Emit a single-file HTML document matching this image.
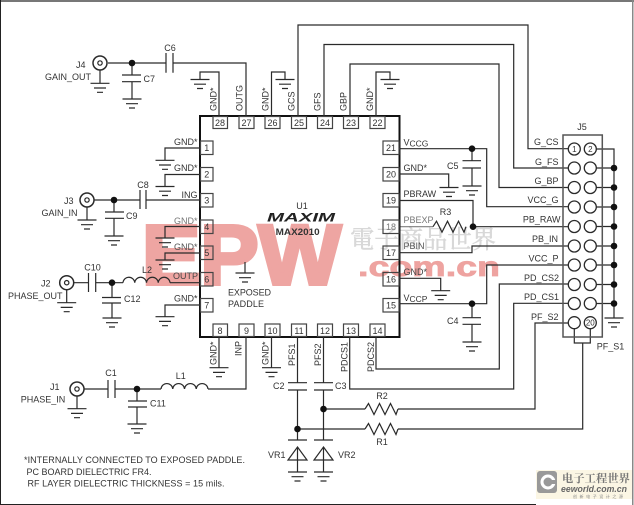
<!DOCTYPE html>
<html><head><meta charset="utf-8"><style>
html,body{margin:0;padding:0;background:#fff}
svg{display:block}
text{font-family:"Liberation Sans",sans-serif;font-size:9px;fill:#333}
.w{fill:none;stroke:#2a2a2a;stroke-width:1.2}
.p{fill:none;stroke:#444;stroke-width:1.2}
.c{fill:#fff;stroke:#2a2a2a;stroke-width:1.3}
.n{text-anchor:middle}
.e{text-anchor:end}
</style></head><body>
<svg width="634" height="505" viewBox="0 0 634 505" xmlns="http://www.w3.org/2000/svg">
<defs>
<g id="g" class="w"><path d="M-9.5 0H9.5M-6 4.7H6M-3 9H3"/></g>
<g id="r" class="w"><path d="M0 0L3.5-5.5 9 5.5 14.5-5.5 20 5.5 25.5-5.5 31 5.5 33 0"/></g>
<path id="l" class="w" d="M0 0a5.9 6 0 0 1 11.75 0a5.9 6 0 0 1 11.75 0a5.9 6 0 0 1 11.75 0a5.9 6 0 0 1 11.75 0"/>
<circle id="d" r="3.3" fill="#111"/>
<g id="j"><circle r="7" fill="#fff" stroke="#2a2a2a" stroke-width="1.5"/><circle r="2.2" fill="#fff" stroke="#2a2a2a" stroke-width="1.2"/></g>
</defs>

<rect width="634" height="505" fill="#fff"/>
<rect x="0" y="0" width="634" height="2" fill="#777"/>
<rect x="0" y="0" width="1" height="505" fill="#222"/>
<rect x="632" y="0" width="1.5" height="505" fill="#888"/>
<rect x="0" y="504" width="536" height="1" fill="#222"/>

<!-- watermark -->
<text x="142" y="284" textLength="199" lengthAdjust="spacingAndGlyphs" style="font-size:84px;font-weight:bold;fill:#eea5a2;stroke:#eea5a2;stroke-width:4">EPW</text>
<text x="350" y="248" textLength="146" lengthAdjust="spacingAndGlyphs" style="font-family:'Liberation Serif','Noto Serif CJK SC',serif;font-size:25px;fill:#d8d8d8;stroke:#d8d8d8;stroke-width:.5">電子商品世界</text>
<text x="358" y="276" textLength="142" lengthAdjust="spacingAndGlyphs" style="font-size:28px;font-weight:bold;fill:#eea3a0;stroke:#eea3a0;stroke-width:.8">.com.cn</text>

<!-- IC -->
<rect x="200" y="116" width="199.5" height="221" fill="none" stroke="#111" stroke-width="2"/>

<!-- wires -->
<path class="w" d="
M108 63H166M173 63H246V116
M219 116V72H200V79
M271.5 116V72H285V80
M298 116V25H528V148.7H568
M324 116V44.5H513.7V168H568
M350 116V64H499V187.5H568
M376 116V72H390V80
M132 63V75M132 81.7V99
M100 70V83
M200 148H165V160
M200 174.5H165V186
M94 200H140M146 200H200
M114 200V212M114 218.3V236
M87 207V220
M200 226.5H165V238
M200 253H165V260
M170 282.7H200
M74 282.7H88.5M96 282.7H123
M112 282.7V297.5M112 303V318
M66.7 290V302.7
M200 305H165V317
M219 337V367.7M271.5 337V367.7
M246 337V389H208
M84 389H108M115 389H161
M137 389V401M137 407V424
M77 396V408.7
M297.5 337V382.7M297.5 390V440M297.5 447V472
M323.5 337V382.7M323.5 390V440M323.5 447V472
M323.5 409H365M398 409H535V323H568
M297.5 429H365M398 429H582.7V343
M399 148.7H486.7V206.7H568
M472 148.7V160.7M472 168V186
M399 174H448.7V187
M399 200.5H473V226.7
M473 226.7H568
M399 252.7H472V246H568
M399 278.3H440.7V290.7
M399 303.7H486.7V265H568
M472 303.7V317.7M472 324.3V342
M349.7 337V389H513.7V303.3H568
M376 337V369H499.3V284H568
M574.3 329V343H590.3V329
M596 149H614V318
M596 168H614M596 187.5H614M596 207H614M596 226.5H614M596 246H614M596 265H614M596 284.5H614M596 303.5H614
"/>
<path class="w" stroke-opacity=".6" d="M399 226.7H433"/>
<!-- capacitor plates -->
<path class="w" stroke-width="1.5" d="
M166 53V72.7M173 53V72.7
M122 75H141M122 81.7H141
M140 190V209M146 190V209
M105 212H124M105 218.3H124
M88.5 273V292M95.7 273V292
M102 297.5H121M102 303H121
M108 380V398M115 380V398
M128 401H147M128 407H147
M288 382.7H307M288 390H307
M314 382.7H333M314 390H333
M462.5 160.7H481M462.5 168H481
M462.5 317.7H481M462.5 324.3H481
"/>
<!-- inductors / resistors -->
<use href="#l" x="123" y="282.7"/>
<use href="#l" x="161" y="389"/>
<use href="#r" x="365" y="409"/>
<use href="#r" x="365" y="429"/>
<use href="#r" x="433" y="226.7"/>
<!-- zeners -->
<path class="w" stroke-width="1.4" d="M288 440H307M297.5 447L307 460H288ZM314 440H333M323.5 447L333 460H314Z"/>
<!-- grounds -->
<use href="#g" x="100" y="83.3"/><use href="#g" x="132" y="99"/><use href="#g" x="200" y="79.5"/>
<use href="#g" x="285" y="79.5"/><use href="#g" x="390" y="79.5"/>
<use href="#g" x="165" y="160.3"/><use href="#g" x="165" y="186.5"/><use href="#g" x="165" y="238"/><use href="#g" x="165" y="260"/><use href="#g" x="165" y="316.7"/>
<use href="#g" x="87" y="220"/><use href="#g" x="114" y="236"/>
<use href="#g" x="66.7" y="302.7"/><use href="#g" x="112" y="318"/>
<use href="#g" x="77" y="408.7"/><use href="#g" x="137" y="424"/>
<use href="#g" x="219" y="367.7"/><use href="#g" x="271.5" y="367.7"/>
<use href="#g" x="297.5" y="472"/><use href="#g" x="323.5" y="472"/>
<use href="#g" x="245" y="273"/><path class="w" d="M245 262V273"/>
<use href="#g" x="449" y="187.5"/><use href="#g" x="472" y="186"/><use href="#g" x="440.7" y="290.7"/><use href="#g" x="472" y="342"/>
<use href="#g" x="614" y="318"/>
<!-- dots -->
<use href="#d" x="132" y="63"/><use href="#d" x="114" y="200"/><use href="#d" x="112" y="282.7"/><use href="#d" x="137" y="389"/>
<use href="#d" x="297.5" y="429"/><use href="#d" x="323.5" y="409"/>
<use href="#d" x="472" y="148.7"/><use href="#d" x="472" y="303.7"/><use href="#d" x="473" y="226.7"/>
<use href="#d" x="614" y="168"/><use href="#d" x="614" y="187.5"/><use href="#d" x="614" y="207"/><use href="#d" x="614" y="226.5"/><use href="#d" x="614" y="246"/><use href="#d" x="614" y="265"/><use href="#d" x="614" y="284.5"/><use href="#d" x="614" y="303.5"/>
<!-- connectors -->
<use href="#j" x="100" y="63"/><use href="#j" x="87" y="200"/><use href="#j" x="66.7" y="282.7"/><use href="#j" x="77" y="389"/>

<!-- pin boxes -->
<g class="p">
<rect x="213" y="116.5" width="14.5" height="12"/><rect x="239" y="116.5" width="15" height="12"/><rect x="265" y="116.5" width="15" height="12"/><rect x="291.5" y="116.5" width="15" height="12"/><rect x="317.5" y="116.5" width="15" height="12"/><rect x="343.5" y="116.5" width="15" height="12"/><rect x="370" y="116.5" width="15" height="12"/>
<rect x="213" y="324" width="14.5" height="12.5"/><rect x="239" y="324" width="15" height="12.5"/><rect x="265" y="324" width="15" height="12.5"/><rect x="291.5" y="324" width="15" height="12.5"/><rect x="317.5" y="324" width="15" height="12.5"/><rect x="343.5" y="324" width="15" height="12.5"/><rect x="370" y="324" width="15" height="12.5"/>
<rect x="200.5" y="141" width="12.5" height="13.5"/><rect x="200.5" y="167.5" width="12.5" height="13.5"/><rect x="200.5" y="193.5" width="12.5" height="13.5"/><rect x="200.5" y="220" width="12.5" height="13.5"/><rect x="200.5" y="246" width="12.5" height="13.5"/><rect x="200.5" y="272.5" width="12.5" height="13.5"/><rect x="200.5" y="298.5" width="12.5" height="13.5"/>
<rect x="383" y="141" width="16" height="13.5"/><rect x="383" y="167.5" width="16" height="13.5"/><rect x="383" y="193.5" width="16" height="13.5"/><rect x="383" y="220" width="16" height="13.5"/><rect x="383" y="246" width="16" height="13.5"/><rect x="383" y="272.5" width="16" height="13.5"/><rect x="383" y="298.5" width="16" height="13.5"/>
</g>

<!-- J5 -->
<rect x="563" y="135" width="39.3" height="202" fill="none" stroke="#555" stroke-width="1.5"/>
<g class="c">
<circle cx="574.3" cy="149" r="6"/><circle cx="590.3" cy="149" r="6"/>
<circle cx="574.3" cy="168" r="6"/><circle cx="590.3" cy="168" r="6"/>
<circle cx="574.3" cy="187.5" r="6"/><circle cx="590.3" cy="187.5" r="6"/>
<circle cx="574.3" cy="207" r="6"/><circle cx="590.3" cy="207" r="6"/>
<circle cx="574.3" cy="226.5" r="6"/><circle cx="590.3" cy="226.5" r="6"/>
<circle cx="574.3" cy="246" r="6"/><circle cx="590.3" cy="246" r="6"/>
<circle cx="574.3" cy="265" r="6"/><circle cx="590.3" cy="265" r="6"/>
<circle cx="574.3" cy="284.5" r="6"/><circle cx="590.3" cy="284.5" r="6"/>
<circle cx="574.3" cy="303.5" r="6"/><circle cx="590.3" cy="303.5" r="6"/>
<circle cx="574.3" cy="322.7" r="6"/><circle cx="590.3" cy="322.7" r="6"/>
</g>
<text class="n" x="574.3" y="152" style="font-size:8px">1</text>
<text class="n" x="590.3" y="152" style="font-size:8px">2</text>
<text class="n" x="590.3" y="325.5" style="font-size:8px">20</text>

<!-- pin numbers -->
<g>
<text class="n" x="220" y="126">28</text><text class="n" x="246.5" y="126">27</text><text class="n" x="272.5" y="126">26</text><text class="n" x="299" y="126">25</text><text class="n" x="325" y="126">24</text><text class="n" x="351" y="126">23</text><text class="n" x="377.5" y="126">22</text>
<text class="n" x="220" y="334">8</text><text class="n" x="246.5" y="334">9</text><text class="n" x="272.5" y="334">10</text><text class="n" x="299" y="334">11</text><text class="n" x="325" y="334">12</text><text class="n" x="351" y="334">13</text><text class="n" x="377.5" y="334">14</text>
<text class="n" x="206.8" y="151">1</text><text class="n" x="206.8" y="177.5">2</text><text class="n" x="206.8" y="203.5">3</text><text class="n" x="206.8" y="230">4</text><text class="n" x="206.8" y="256">5</text><text class="n" x="206.8" y="282.5">6</text><text class="n" x="206.8" y="308.5">7</text>
<text class="n" x="391" y="151">21</text><text class="n" x="391" y="177.5">20</text><text class="n" x="391" y="203.5">19</text><text class="n" x="391" y="230" style="fill:#777">18</text><text class="n" x="391" y="256">17</text><text class="n" x="391" y="282.5">16</text><text class="n" x="391" y="308.5">15</text>
</g>

<!-- vertical labels -->
<text transform="translate(216.7 111) rotate(-90)">GND*</text>
<text transform="translate(242.5 111) rotate(-90)">OUTG</text>
<text transform="translate(268.5 111) rotate(-90)">GND*</text>
<text transform="translate(294.5 111) rotate(-90)">GCS</text>
<text transform="translate(320.5 111) rotate(-90)">GFS</text>
<text transform="translate(346.7 111) rotate(-90)">GBP</text>
<text transform="translate(373 111) rotate(-90)">GND*</text>
<text transform="translate(216.7 365) rotate(-90)">GND*</text>
<text transform="translate(241.7 356) rotate(-90)">INP</text>
<text transform="translate(268.5 365) rotate(-90)">GND*</text>
<text transform="translate(295 366) rotate(-90)">PFS1</text>
<text transform="translate(321 366) rotate(-90)">PFS2</text>
<text transform="translate(347.7 372) rotate(-90)">PDCS1</text>
<text transform="translate(374 372) rotate(-90)">PDCS2</text>

<!-- left labels -->
<text class="e" x="197.5" y="145">GND*</text>
<text class="e" x="197.5" y="171">GND*</text>
<text class="e" x="197.5" y="198">ING</text>
<text class="e" x="197.5" y="224" style="fill:#777">GND*</text>
<text class="e" x="197.5" y="250" style="fill:#555">GND*</text>
<text class="e" x="198" y="279" style="fill:#444">OUTP</text>
<text class="e" x="197.5" y="301.7">GND*</text>

<!-- right labels -->
<text x="403.5" y="145.6">V<tspan style="font-size:8.5px" dy="1">CCG</tspan></text>
<text x="403.5" y="171">GND*</text>
<text x="403.5" y="197">PBRAW</text>
<text x="403.5" y="223" style="fill:#777">PBEXP</text>
<text x="403.5" y="249" style="fill:#555">PBIN</text>
<text x="403.5" y="275" style="fill:#444">GND*</text>
<text x="403.5" y="301">V<tspan style="font-size:8.5px" dy="1">CCP</tspan></text>

<!-- component labels -->
<text x="76" y="68">J4</text><text x="45" y="80">GAIN_OUT</text>
<text class="n" x="170" y="51">C6</text><text x="143.5" y="82">C7</text>
<text x="64" y="204">J3</text><text x="41.5" y="216">GAIN_IN</text>
<text class="n" x="143" y="188">C8</text><text x="126" y="219">C9</text>
<text x="41" y="286.7">J2</text><text x="8" y="299">PHASE_OUT</text>
<text class="n" x="92.5" y="270.7">C10</text><text class="n" x="147" y="273">L2</text><text x="124" y="302">C12</text>
<text x="50" y="390">J1</text><text x="20.7" y="402.7">PHASE_IN</text>
<text class="n" x="111" y="376">C1</text><text class="n" x="180.7" y="379">L1</text><text x="150" y="406.7">C11</text>
<text x="273" y="389">C2</text><text x="335" y="389">C3</text>
<text x="268" y="458">VR1</text><text x="338" y="458">VR2</text>
<text class="n" x="382" y="399">R2</text><text class="n" x="382" y="445">R1</text>
<text class="n" x="445.5" y="215">R3</text>
<text x="447" y="169">C5</text><text x="447" y="324">C4</text>
<text x="228" y="295.7" textLength="43">EXPOSED</text>
<text x="228" y="307" textLength="36">PADDLE</text>
<text class="n" x="302" y="209">U1</text>
<text x="267" y="221.5" textLength="68" lengthAdjust="spacingAndGlyphs" style="font-size:11.5px;font-weight:bold;font-style:italic;fill:#222">MAXIM</text>
<text x="275.7" y="235" textLength="44" lengthAdjust="spacingAndGlyphs" style="font-weight:bold;fill:#333">MAX2010</text>

<!-- J5 labels -->
<text class="n" x="582" y="130">J5</text>
<text class="e" x="558.5" y="145">G_CS</text>
<text class="e" x="558.5" y="165">G_FS</text>
<text class="e" x="558.5" y="184">G_BP</text>
<text class="e" x="558.5" y="203">VCC_G</text>
<text class="e" x="560.5" y="222.6">PB_RAW</text>
<text class="e" x="558" y="242">PB_IN</text>
<text class="e" x="558.5" y="261.7">VCC_P</text>
<text class="e" x="559" y="281">PD_CS2</text>
<text class="e" x="559" y="300">PD_CS1</text>
<text class="e" x="558.5" y="320">PF_S2</text>
<text x="596.7" y="349.3">PF_S1</text>

<!-- notes -->
<text x="24" y="463" textLength="221">*INTERNALLY CONNECTED TO EXPOSED PADDLE.</text>
<text x="26.5" y="475">PC BOARD DIELECTRIC FR4.</text>
<text x="27.5" y="486.7" textLength="197">RF LAYER DIELECTRIC THICKNESS = 15 mils.</text>

<!-- eeworld logo -->
<rect x="536" y="470" width="96" height="29" fill="#fbf6e4"/>
<rect x="537" y="471" width="20" height="22" rx="3" fill="#999"/>
<circle cx="548" cy="482" r="6" fill="none" stroke="#fff" stroke-width="3"/>
<rect x="550" y="480" width="7" height="4" fill="#999"/>
<text x="562" y="482" textLength="68" lengthAdjust="spacingAndGlyphs" style="font-family:'Liberation Serif','Noto Serif CJK SC',serif;font-size:11px;font-weight:bold;fill:#777">电子工程世界</text>
<text x="561" y="492" textLength="66" lengthAdjust="spacingAndGlyphs" style="font-size:9.5px;font-style:italic;font-weight:bold;fill:#666">eeworld.com.cn</text>
<text x="573" y="498" textLength="50" lengthAdjust="spacing" style="font-family:'Liberation Sans','Noto Sans CJK SC',sans-serif;font-size:4px;fill:#888">创新电子设计之源</text>
</svg>
</body></html>
